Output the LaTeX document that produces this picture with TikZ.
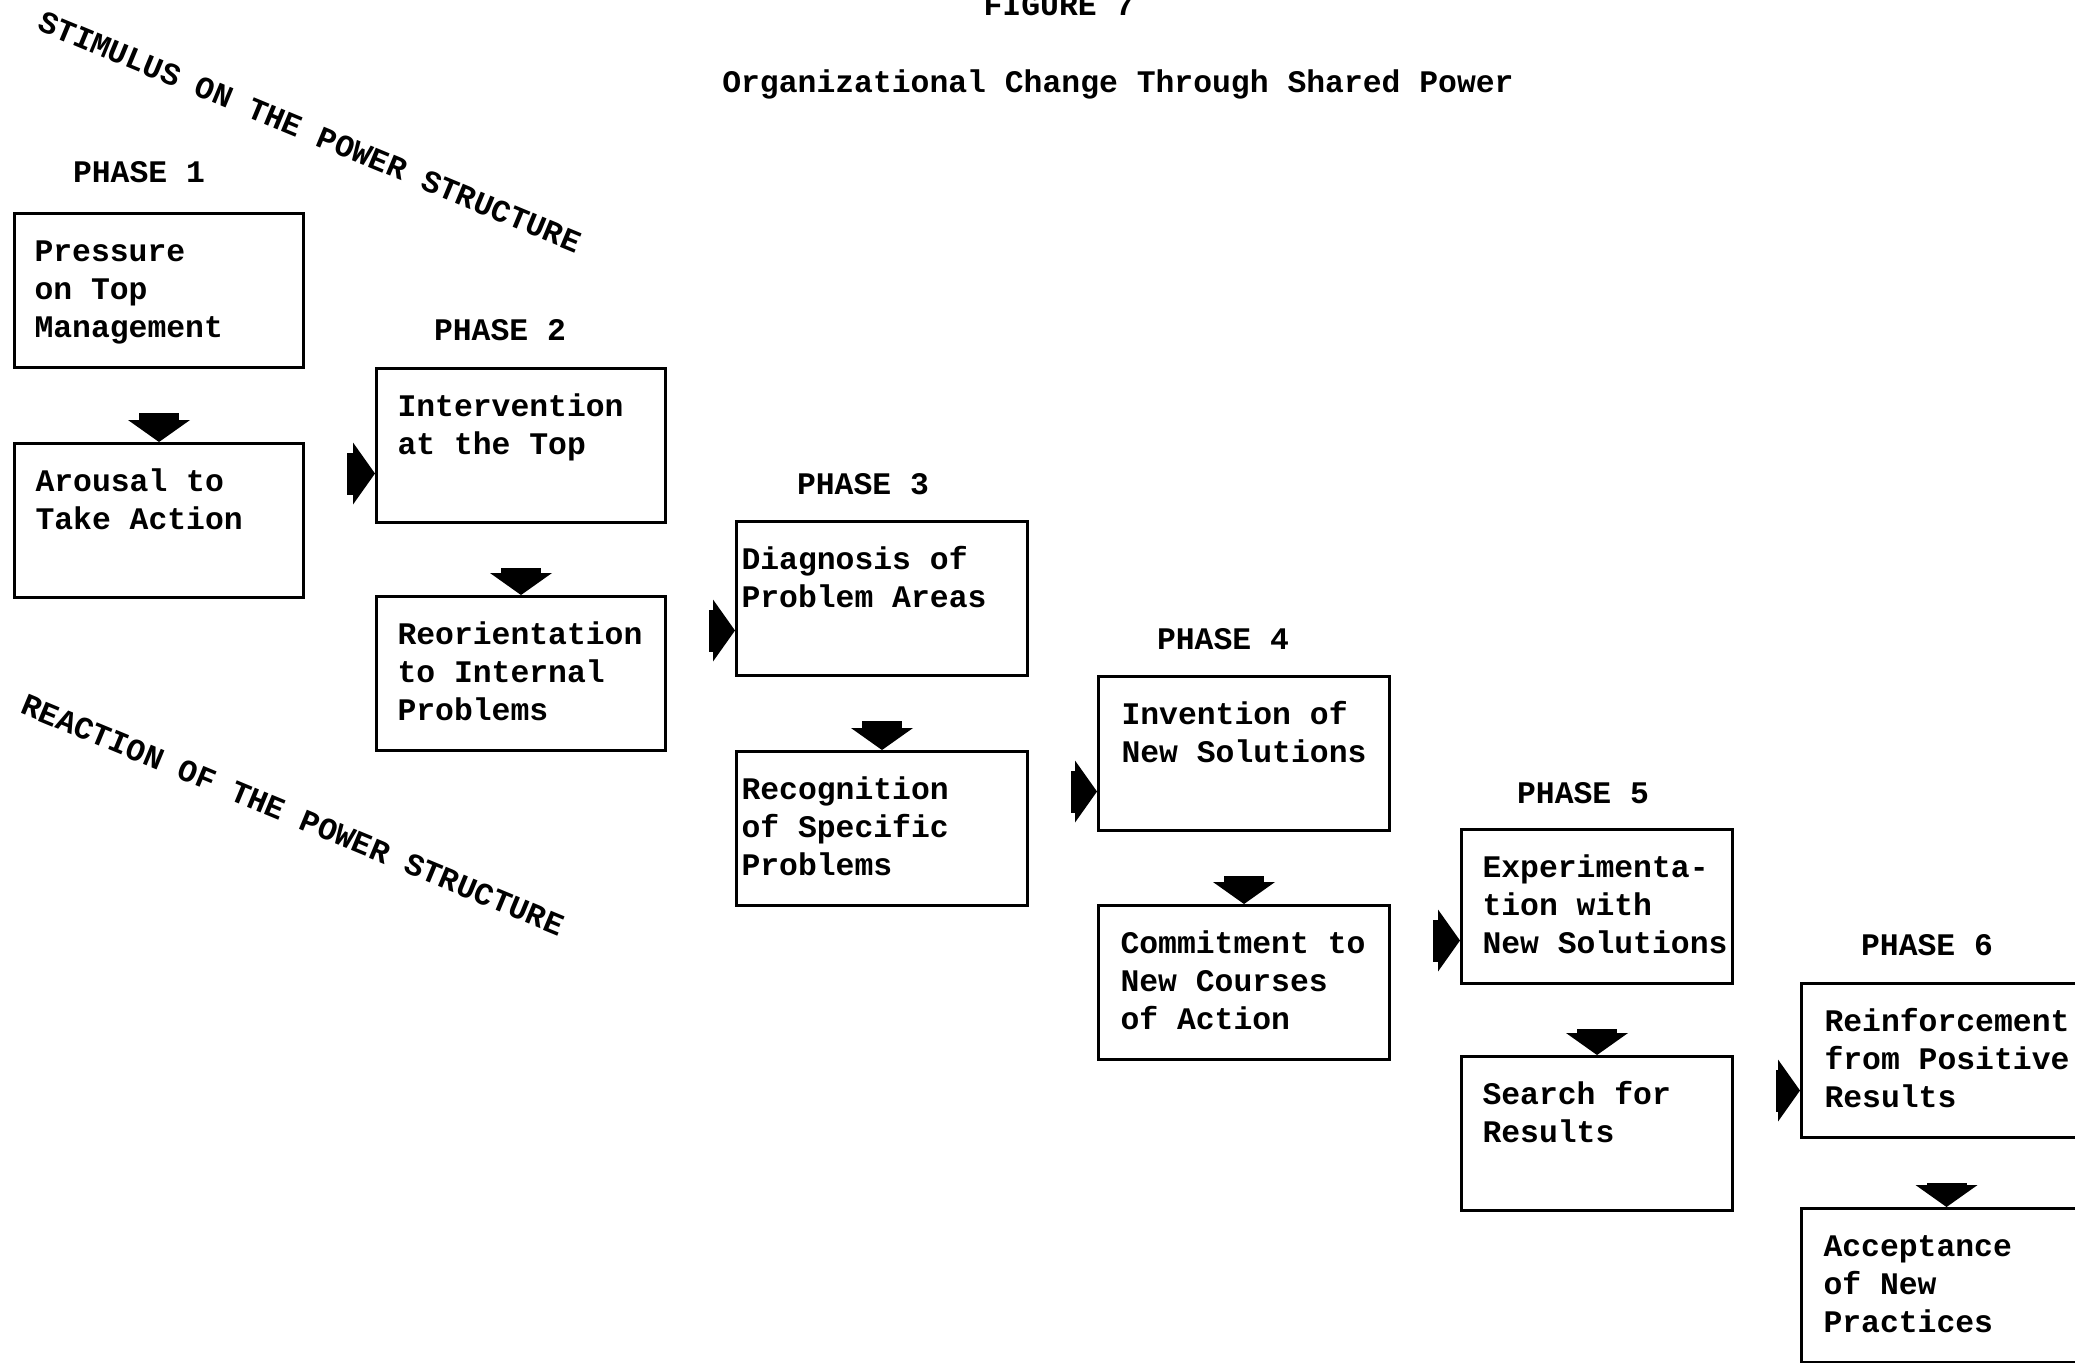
\documentclass[tikz,border=0pt]{standalone}
\usepackage{fontspec}
\newfontfamily\twfont{Liberation Mono}
\usetikzlibrary{arrows.meta,calc}
\newcommand{\twf}{\twfont\bfseries\fontsize{15.7pt}{18.9pt}\selectfont}
\newcommand{\bxt}[3]{\parbox[t][77pt][t]{#1}{\vspace*{10.8pt}\leftskip=#2\relax\parindent=0pt\strut #3}}
\begin{document}
\begin{tikzpicture}[x=0.5pt,y=-0.5pt,
  every node/.style={font=\twf, text=black},
  box/.style={draw, line width=1.5pt, inner sep=0pt, anchor=north west},
  phase/.style={anchor=center},
  diag/.style={anchor=center, rotate=-22.5},
  downarr/.style={line width=20pt, -{Triangle[width=31pt,length=11pt,line width=0pt]}, shorten <=22pt},
  rgtarr/.style={line width=21pt, -{Triangle[width=31pt,length=11pt,line width=0pt]}, shorten <=21pt}]
\useasboundingbox (0,0) rectangle (2075,1362);
\fill[white] (0,0) rectangle (2075,1362);

% titles
\node[anchor=base] (fig) at (1059,15) {FIGURE 7};
\node[anchor=base] (title) at (1118,92) {Organizational Change Through Shared Power};

% diagonal texts
\node[diag] (stim) at (310,132) {STIMULUS ON THE POWER STRUCTURE};
\node[diag] (react) at (293,815) {REACTION OF THE POWER STRUCTURE};

% boxes
\node[box] (P1a) at (13,212) {\bxt{144.5pt}{10pt}{Pressure\\on Top\\Management}};
\node[box] (P1b) at (13,442) {\bxt{144.5pt}{10.5pt}{Arousal to\\Take Action}};
\node[box] (P2a) at (375,367) {\bxt{144.5pt}{10.5pt}{Intervention\\at the Top}};
\node[box] (P2b) at (375,595) {\bxt{144.5pt}{10.5pt}{Reorientation\\to Internal\\Problems}};
\node[box] (P3a) at (735,520) {\bxt{145.5pt}{2.5pt}{Diagnosis of\\Problem Areas}};
\node[box] (P3b) at (735,750) {\bxt{145.5pt}{2.5pt}{Recognition\\of Specific\\Problems}};
\node[box] (P4a) at (1097,675) {\bxt{145.5pt}{11.5pt}{Invention of\\New Solutions}};
\node[box] (P4b) at (1097,904) {\bxt{145.5pt}{11pt}{Commitment to\\New Courses\\of Action}};
\node[box] (P5a) at (1460,828) {\bxt{135.5pt}{10.5pt}{Experimenta-\\tion with\\New Solutions}};
\node[box] (P5b) at (1460,1055) {\bxt{135.5pt}{10.5pt}{Search for\\Results}};
\node[box] (P6a) at (1800,982) {\bxt{145pt}{11.5pt}{Reinforcement\\from Positive\\Results}};
\node[box] (P6b) at (1800,1207) {\bxt{145pt}{11pt}{Acceptance\\of New\\Practices}};

% phase labels
\node[phase] (L1) at ($(P1a.north west)+(126,-40)$) {PHASE 1};
\node[phase] (L2) at ($(P2a.north west)+(125,-37)$) {PHASE 2};
\node[phase] (L3) at ($(P3a.north west)+(128,-36)$) {PHASE 3};
\node[phase] (L4) at ($(P4a.north west)+(126,-36)$) {PHASE 4};
\node[phase] (L5) at ($(P5a.north west)+(123,-35)$) {PHASE 5};
\node[phase] (L6) at ($(P6a.north west)+(127,-37)$) {PHASE 6};

% down arrows
\draw[downarr] (P1a) -- (P1b);
\draw[downarr] (P2a) -- (P2b);
\draw[downarr] (P3a) -- (P3b);
\draw[downarr] (P4a) -- (P4b);
\draw[downarr] (P5a) -- (P5b);
\draw[downarr] (P6a) -- (P6b);

% right arrows
\coordinate (T2) at ([yshift=-14pt]P2a.west);
\coordinate (T3) at ([yshift=-16pt]P3a.west);
\coordinate (T4) at ([yshift=-19pt]P4a.west);
\coordinate (T5) at ([yshift=-17pt]P5a.west);
\coordinate (T6) at ([yshift=-15pt]P6a.west);
\draw[rgtarr] (P1b.east |- T2) -- (T2);
\draw[rgtarr] (P2b.east |- T3) -- (T3);
\draw[rgtarr] (P3b.east |- T4) -- (T4);
\draw[rgtarr] (P4b.east |- T5) -- (T5);
\draw[rgtarr] (P5b.east |- T6) -- (T6);
\end{tikzpicture}
\end{document}
